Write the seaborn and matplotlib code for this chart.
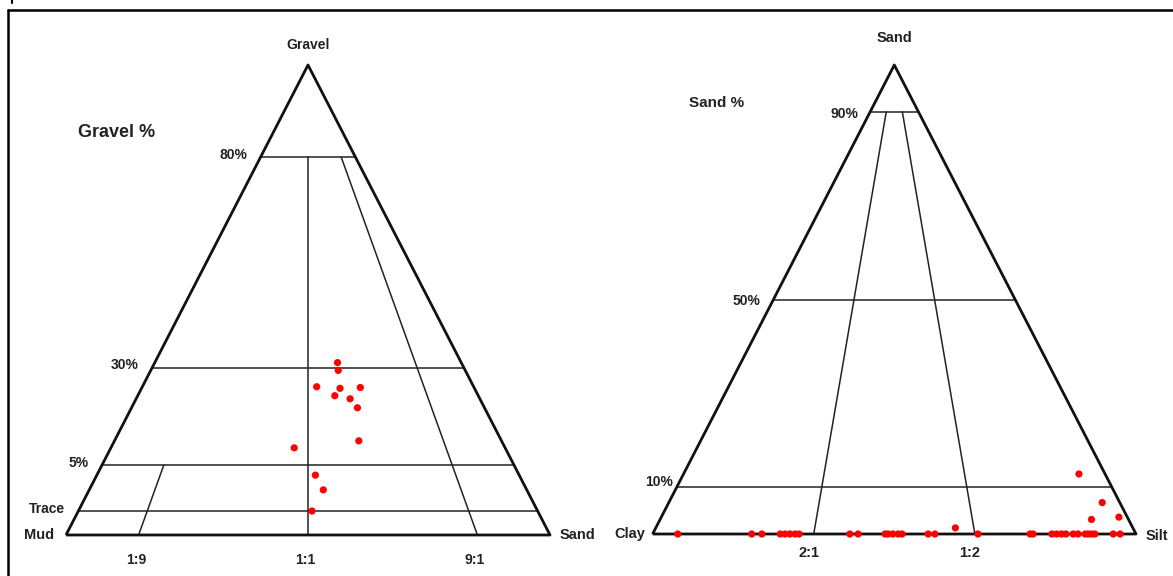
import numpy as np
import pandas as pd
import matplotlib.pyplot as plt
import seaborn as sns

# ---- Gravel - Sand - Mud triangle (Folk) ----
# gravel % levels and the height at which the diagram draws them (not linear)
gravel_levels = [0, 0.01, 5, 30, 80, 100]
gravel_heights = [0, 0.051, 0.149, 0.356, 0.804, 1]
gravel_level_labels = ['Trace', '5%', '30%', '80%']
# sand:mud ratio lines (sand fraction of sand+mud) and where they meet the base
ratio_values = [0, 0.1, 0.5, 0.9, 1]
ratio_positions = [0, 0.15, 0.5, 0.85, 1]
ratio_lines = [0.1, 0.5, 0.9]
ratio_line_tops = [5, 80, 80]   # gravel % where each ratio line stops
ratio_labels = ['1:9', '1:1', '9:1']

gravel_pct = [31.2, 29.3, 25.1, 24.7, 24.9, 22.8, 22.0, 19.7, 11.2, 9.4, 3.9, 2.3, 0.01]
sand_of_sandmud = [0.61, 0.61, 0.53, 0.61, 0.68, 0.59, 0.64, 0.66, 0.65, 0.46, 0.52, 0.54, 0.51]

# ---- Sand - Silt - Clay triangle ----
sand_levels = [10, 50, 90]
sand_level_labels = ['10%', '50%', '90%']
silt_ratio_lines = [1 / 3, 2 / 3]   # silt fraction of silt+clay
silt_ratio_labels = ['2:1', '1:2']

sand_pct = [0, 0, 0, 0, 0, 0, 0, 0, 0, 0, 0, 0, 0, 0, 0, 0, 0, 1.3, 0,
            0, 0, 0, 0, 0, 0, 0, 0, 0, 0, 0, 0, 0, 0,
            12.8, 6.7, 3.1, 3.6]
silt_pct = [5.2, 20.5, 22.6, 26.4, 27.4, 28.4, 29.5, 30.3, 40.8, 42.5, 48.1, 48.7,
            49.7, 50.8, 51.6, 57.0, 58.4, 62.8, 67.3,
            78.1, 78.7, 82.6, 83.6, 84.6, 85.5, 87.0, 88.0, 89.5, 90.1, 90.8, 91.5, 95.3, 96.7,
            93.8, 96.1, 92.1, 98.2]


def tri_xy(h, r):
    # h = height (0 base, 1 apex), r = position along base (0 left, 1 right)
    h = np.asarray(h, dtype=float)
    r = np.asarray(r, dtype=float)
    return 0.5 + (1 - h) * (r - 0.5), h


def gravel_h(g):
    return np.interp(g, gravel_levels, gravel_heights)


def sand_r(s):
    return np.interp(s, ratio_values, ratio_positions)


sns.set_style('white')
plt.rcParams['font.family'] = ['Liberation Sans', 'DejaVu Sans']
txt = dict(color='#222222', fontweight='bold')
thick = dict(color='#111111', lw=2.0, solid_capstyle='butt', zorder=2)
thin = dict(color='#222222', lw=1.1, zorder=1)
dots = dict(color='#ff0000', s=27, edgecolor='none', zorder=5, clip_on=False)

fig = plt.figure(figsize=(11.73, 5.76), dpi=100)
ax1 = fig.add_axes([66 / 1173, 41 / 576, 484 / 1173, 470 / 576])
ax2 = fig.add_axes([652.6 / 1173, 42 / 576, 483.4 / 1173, 469 / 576])
for ax in (ax1, ax2):
    ax.set_xlim(0, 1)
    ax.set_ylim(0, 1)
    ax.axis('off')
    ax.plot([0, 0.5, 1, 0], [0, 1, 0, 0], clip_on=False, **thick)

# left triangle
for g, lab in zip(gravel_levels[1:-1], gravel_level_labels):
    h = gravel_h(g)
    ax1.plot([h / 2, 1 - h / 2], [h, h], **thin)
    ax1.text(h / 2 - 0.028, h + 0.005, lab, ha='right', va='center', fontsize=10, **txt)
for r, top, lab in zip(ratio_lines, ratio_line_tops, ratio_labels):
    x, y = tri_xy([0, gravel_h(top)], [sand_r(r)] * 2)
    ax1.plot(x, y, **thin)
    ax1.text(sand_r(r) - 0.005, -0.053, lab, ha='center', va='center', fontsize=10, **txt)

px, py = tri_xy(gravel_h(gravel_pct), sand_r(sand_of_sandmud))
df1 = pd.DataFrame({'x': px, 'y': py})
sns.scatterplot(data=df1, x='x', y='y', ax=ax1, **dots)

ax1.text(0.5, 1.043, 'Gravel', ha='center', va='center', fontsize=10, **txt)
ax1.text(0.105, 0.857, 'Gravel %', ha='center', va='center', fontsize=13, **txt)
ax1.text(-0.024, 0.0, 'Mud', ha='right', va='center', fontsize=10.5, **txt)
ax1.text(1.02, 0.0, 'Sand', ha='left', va='center', fontsize=10.5, **txt)

# right triangle
for s, lab, dx, dy in zip(sand_levels, sand_level_labels, [-0.008, -0.026, -0.024], [0.01, -0.003, -0.004]):
    h = s / 100
    ax2.plot([h / 2, 1 - h / 2], [h, h], **thin)
    ax2.text(h / 2 + dx, h + dy, lab, ha='right', va='center', fontsize=10, **txt)
for r, lab in zip(silt_ratio_lines, silt_ratio_labels):
    x, y = tri_xy([0, 0.9], [r, r])
    ax2.plot(x, y, **thin)
    ax2.text(r - 0.01, -0.04, lab, ha='center', va='center', fontsize=10.5, **txt)

qx, qy = tri_xy(np.array(sand_pct) / 100, np.array(silt_pct) / 100)
df2 = pd.DataFrame({'x': qx, 'y': qy})
sns.scatterplot(data=df2, x='x', y='y', ax=ax2, **dots)

ax2.text(0.5, 1.058, 'Sand', ha='center', va='center', fontsize=10.5, **txt)
ax2.text(0.133, 0.919, 'Sand %', ha='center', va='center', fontsize=11, **txt)
ax2.text(-0.016, 0.0, 'Clay', ha='right', va='center', fontsize=10.5, **txt)
ax2.text(1.02, -0.005, 'Silt', ha='left', va='center', fontsize=10.5, **txt)

# outer frame of the cropped figure
fig.add_artist(plt.Line2D([8 / 1173, 1], [1 - 10 / 576] * 2, color='black', lw=1.8))
fig.add_artist(plt.Line2D([8 / 1173] * 2, [0, 1 - 10 / 576], color='black', lw=1.8))
fig.add_artist(plt.Line2D([12 / 1173] * 2, [1, 1 - 3 / 576], color='black', lw=1.5))

fig.savefig('out.png', dpi=100)
